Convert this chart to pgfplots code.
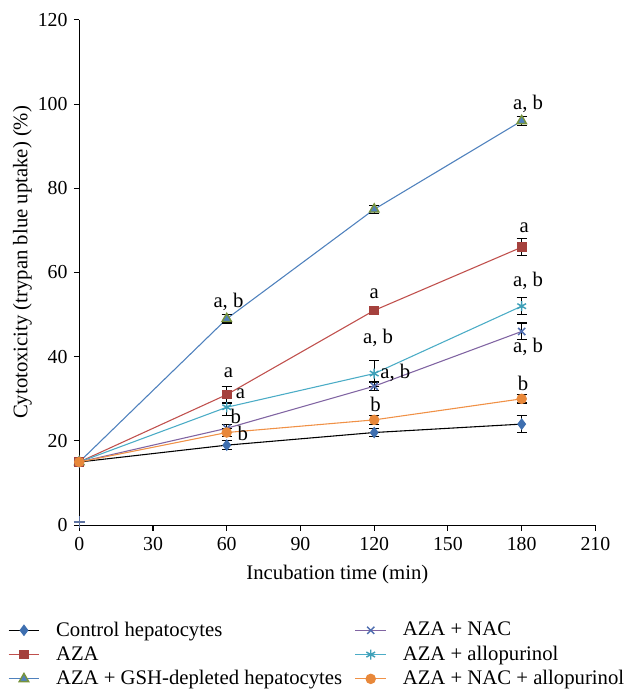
\documentclass[border=0pt]{standalone}
\usepackage{fontspec}
\setmainfont{Liberation Serif}
\usepackage{pgfplots}
\pgfplotsset{compat=1.18}

\definecolor{ctrlmark}{RGB}{62,111,176}
\definecolor{azaline}{RGB}{192,80,77}
\definecolor{azamark}{RGB}{165,65,61}
\definecolor{gshline}{RGB}{79,129,189}
\definecolor{gshmark}{RGB}{119,147,60}
\definecolor{nacline}{RGB}{128,100,162}
\definecolor{nacmark}{RGB}{79,110,176}
\definecolor{alloline}{RGB}{75,172,198}
\definecolor{allomark}{RGB}{63,160,184}
\definecolor{naline}{RGB}{240,145,70}
\definecolor{namark}{RGB}{232,136,58}

\pgfplotsset{
  ebar/.style={
    error bars/.cd, y dir=both, y explicit,
    error bar style={black, line width=0.6pt},
    error mark options={rotate=90, mark size=2.8pt, black, line width=0.6pt},
  },
}

\begin{document}
\begin{tikzpicture}
\begin{axis}[
  scale only axis,
  width=286.5pt, height=280.5pt,
  xmin=0, xmax=210, ymin=0, ymax=120,
  xtick={0,30,...,210}, ytick={0,20,...,120},
  axis x line*=bottom, axis y line*=left,
  tick align=outside, major tick length=3pt,
  tick style={black, line width=0.6pt},
  axis line style={black, line width=0.6pt},
  /pgf/number format/assume math mode=true,
  tick label style={font=\fontsize{11}{12}\selectfont},
  label style={font=\fontsize{11.5}{13}\selectfont},
  xlabel={Incubation time (min)},
  ylabel={Cytotoxicity (trypan blue uptake) (\%)},
  xlabel style={at={(axis description cs:0.5,-0.098)}, anchor=center},
  ylabel style={at={(axis description cs:-0.11,0.52)}, anchor=center},
  clip=false,
  legend style={
    at={(axis description cs:-0.138,-0.184)}, anchor=north west,
    draw=none, fill=none, inner sep=0pt, outer sep=0pt,
    font=\fontsize{11.5}{13.5}\selectfont,
    /tikz/every odd column/.append style={column sep=7pt},
    /tikz/every even column/.append style={column sep=5pt},
    row sep=0pt,
  },
  legend columns=2,
  legend cell align=left,
]
% legend images in the reference order
\addlegendimage{black, line width=0.6pt, mark=diamond*, mark size=2.8pt, mark options={ctrlmark, fill=ctrlmark}}
\addlegendentry{Control hepatocytes}
\addlegendimage{nacline, line width=0.6pt, mark=x, mark size=2.8pt, mark options={nacmark, line width=0.8pt}}
\addlegendentry{AZA + NAC}
\addlegendimage{azaline, line width=0.6pt, mark=square*, mark size=2.4pt, mark options={azamark, fill=azamark}}
\addlegendentry{AZA}
\addlegendimage{alloline, line width=0.6pt, mark=asterisk, mark size=2.8pt, mark options={allomark, line width=0.8pt}}
\addlegendentry{AZA + allopurinol}
\addlegendimage{gshline, line width=0.6pt, mark=triangle*, mark size=3pt, mark options={draw=gshmark, fill=gshline, line width=0.8pt}}
\addlegendentry{AZA + GSH-depleted hepatocytes}
\addlegendimage{naline, line width=0.6pt, mark=*, mark size=2.6pt, mark options={namark, fill=namark}}
\addlegendentry{AZA + NAC + allopurinol}

% stray marker near the origin
\addplot[forget plot, only marks, mark=+, mark size=3.2pt, mark options={nacmark!70!gray, line width=0.8pt}]
coordinates {(0,0.8)};

% GSH-depleted
\addplot[forget plot, gshline, line width=0.6pt, mark=triangle*, mark size=3pt,
  mark options={draw=gshmark, fill=gshline, line width=0.8pt}, ebar]
coordinates {(0,15) +- (0,0) (60,49) +- (0,1) (120,75) +- (0,1) (180,96) +- (0,1)};
% AZA
\addplot[forget plot, azaline, line width=0.6pt, mark=square*, mark size=2.4pt,
  mark options={azamark, fill=azamark}, ebar]
coordinates {(0,15) +- (0,0) (60,31) +- (0,2) (120,51) +- (0,0.6) (180,66) +- (0,2)};
% AZA + allopurinol
\addplot[forget plot, alloline, line width=0.6pt, mark=asterisk, mark size=2.8pt,
  mark options={allomark, line width=0.8pt}, ebar]
coordinates {(0,15) +- (0,0) (60,28) +- (0,2) (120,36) +- (0,3) (180,52) +- (0,2)};
% AZA + NAC
\addplot[forget plot, nacline, line width=0.6pt, mark=x, mark size=2.8pt,
  mark options={nacmark, line width=0.8pt}, ebar]
coordinates {(0,15) +- (0,0) (60,23) +- (0,1) (120,33) +- (0,1) (180,46) +- (0,2)};
% Control
\addplot[forget plot, black, line width=0.6pt, mark=diamond*, mark size=2.8pt,
  mark options={ctrlmark, fill=ctrlmark}, ebar]
coordinates {(0,15) +- (0,0) (60,19) +- (0,1) (120,22) +- (0,1) (180,24) +- (0,2)};
% AZA + NAC + allopurinol
\addplot[forget plot, naline, line width=0.6pt, mark=*, mark size=2.6pt,
  mark options={namark, fill=namark}, ebar]
coordinates {(0,15) +- (0,0) (60,22) +- (0,1) (120,25) +- (0,1) (180,30) +- (0,1)};

% significance letters
\begin{scope}[every node/.style={font=\fontsize{11.5}{13}\selectfont, inner sep=0pt}]
\node at (axis cs:60.7,52.9) {a, b};
\node at (axis cs:60.7,36.1) {a};
\node at (axis cs:65.6,31.1) {a};
\node at (axis cs:63.7,25.9) {b};
\node at (axis cs:66.5,21.9) {b};
\node at (axis cs:120,54.9) {a};
\node at (axis cs:121.6,44.5) {a, b};
\node at (axis cs:128.6,36.2) {a, b};
\node at (axis cs:120.5,28.7) {b};
\node at (axis cs:182.6,100) {a, b};
\node at (axis cs:181,70.6) {a};
\node at (axis cs:182.6,57.9) {a, b};
\node at (axis cs:182.6,42.4) {a, b};
\node at (axis cs:180.6,33.6) {b};
\end{scope}

% margins as in the reference
\path (axis description cs:0,1) ++(0,11pt);
\path (axis description cs:0,0) ++(-44pt,0);
\end{axis}
\end{tikzpicture}
\end{document}
